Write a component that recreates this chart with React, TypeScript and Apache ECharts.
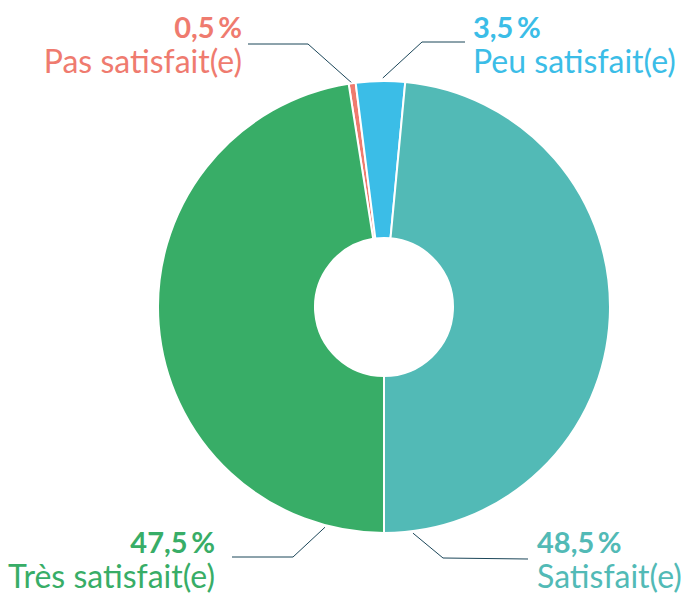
import React, { useEffect, useRef } from "react";
import * as echarts from "echarts";

const categories = ["Pas satisfait(e)", "Peu satisfait(e)", "Satisfait(e)", "Très satisfait(e)"];
const values = [0.5, 3.5, 48.5, 47.5];
const colors = ["#EF7B6F", "#3BBDE7", "#52BAB6", "#38AD67"];

const CX = 384;
const CY = 307;
const R_IN = 69;
const R_OUT = 226;
const FONT = "Lato, 'Noto Sans', sans-serif";

type LabelPos = {
  anchorAngle: number;
  anchorR: number;
  elbow: number[];
  end: number[];
  x: number;
  y: number;
  align: "left" | "right";
};

const labelLayouts: LabelPos[] = [
  { anchorAngle: -8.1, anchorR: 226, elbow: [308, 44], end: [248, 44], x: 242, y: 6, align: "right" },
  { anchorAngle: -0.3, anchorR: 229, elbow: [422, 42], end: [465, 42], x: 473, y: 6, align: "left" },
  { anchorAngle: 172.7, anchorR: 228, elbow: [443, 558], end: [528, 559], x: 537, y: 521, align: "left" },
  { anchorAngle: 195, anchorR: 228, elbow: [293, 557], end: [232, 557], x: 215, y: 521, align: "right" },
];

const fmtPct = (v: number) => v.toFixed(1).replace(".", ",") + "\u2009%";

export default function App() {
  const ref = useRef<HTMLDivElement>(null);
  useEffect(() => {
    if (!ref.current) return;
    const chart = echarts.init(ref.current, null, { renderer: "svg" });
    const data = values.map((v, i) => ({
      value: v,
      name: categories[i],
      itemStyle: { color: colors[i] },
      label: {
        rich: {
          p: {
            fontFamily: FONT,
            fontWeight: "bold",
            fontSize: 29,
            lineHeight: 40,
            color: colors[i],
            align: labelLayouts[i].align,
          },
          l: {
            fontFamily: FONT,
            fontSize: 32,
            lineHeight: 28,
            color: colors[i],
            align: labelLayouts[i].align,
          },
        },
      },
    }));
    chart.setOption({
      animation: false,
      series: [
        {
          type: "pie",
          center: [CX, CY],
          radius: [R_IN, R_OUT],
          startAngle: 99,
          clockwise: true,
          avoidLabelOverlap: false,
          emphasis: { disabled: true },
          itemStyle: { borderColor: "#ffffff", borderWidth: 2 },
          label: {
            show: true,
            position: "outside",
            formatter: (p: any) => `{p|${fmtPct(p.value)}}\n{l|${p.name}}`,
          },
          labelLine: {
            show: true,
            lineStyle: { color: "#1B4659", width: 1 },
          },
          labelLayout: (params: any) => {
            const c = labelLayouts[params.dataIndex];
            const a = (c.anchorAngle * Math.PI) / 180;
            const ax = CX + c.anchorR * Math.sin(a);
            const ay = CY - c.anchorR * Math.cos(a);
            return {
              x: c.x,
              y: c.y,
              align: c.align,
              verticalAlign: "top",
              labelLinePoints: [[ax, ay], c.elbow, c.end],
            };
          },
          data,
        },
      ],
    });
    return () => chart.dispose();
  }, []);
  return (
    <div
      ref={ref}
      style={{ position: "absolute", left: 0, top: 0, width: 687, height: 593, background: "#fff" }}
    />
  );
}
